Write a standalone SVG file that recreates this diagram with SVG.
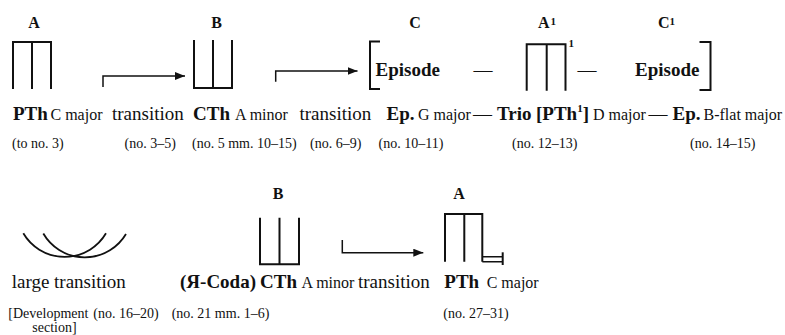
<svg xmlns="http://www.w3.org/2000/svg" width="785" height="335" viewBox="0 0 785 335" font-family="'Liberation Serif', 'Times New Roman', serif">
<style>
text{font-family:'Liberation Serif','Times New Roman',serif;fill:#111}
.lbl{font-size:16px;font-weight:bold}
.big{font-size:19px}
.b{font-weight:bold}
.sm{font-size:16px}
.ref{font-size:14px}
.sup{font-size:11px;font-weight:bold}
.sym{fill:none;stroke:#111;stroke-width:2}
.arc{fill:none;stroke:#111;stroke-width:1.8}
.con{fill:none;stroke:#111;stroke-width:1.5}
</style>
<defs>
<marker id="ah" viewBox="0 0 10 8" refX="10" refY="4" markerWidth="10" markerHeight="8" markerUnits="userSpaceOnUse" orient="auto">
<path d="M0,0 L10,4 L0,8 z" fill="#111"/>
</marker>
</defs>
<rect width="785" height="335" fill="#fff"/>

<g id="nodeA">
<text class="lbl" x="34" y="28" text-anchor="middle">A</text>
<path class="sym" d="M13,89 V42 H51 V89 M32,42 V89"/>
</g>
<g id="nodeB">
<text class="lbl" x="216.5" y="28" text-anchor="middle">B</text>
<path class="sym" d="M194,40 V88 H232 V40 M213,40 V88"/>
</g>
<g id="nodeC">
<text class="lbl" x="415" y="28" text-anchor="middle">C</text>
<path class="sym" d="M380,41.5 H370 V89 H380"/>
<text class="big b" x="375.5" y="76">Episode</text>
<text class="big" x="473.5" y="76">—</text>
</g>
<g id="nodeA1">
<text class="lbl" x="538" y="28">A</text>
<text class="sup" x="550.5" y="24.5">1</text>
<path class="sym" d="M526.7,90.7 V44.3 H565.5 V90.7 M546.7,44.3 V90.7"/>
<text class="sup" x="568.5" y="46.5">1</text>
<text class="big" x="577.5" y="76">—</text>
</g>
<g id="nodeC1">
<text class="lbl" x="658" y="28">C</text>
<text class="sup" x="669.5" y="24.5">1</text>
<text class="big b" x="635" y="76">Episode</text>
<path class="sym" d="M699.5,42 H710.5 V90 H699.5"/>
</g>

<g id="row1-text">
<text class="big b" x="13" y="120">PTh</text>
<text class="sm" x="50.5" y="120">C major</text>
<text class="big" x="112" y="120">transition</text>
<text class="big b" x="193" y="120">CTh</text>
<text class="sm" x="235" y="120">A minor</text>
<text class="big" x="299.5" y="120">transition</text>
<text class="big b" x="386.5" y="120">Ep.</text>
<text class="sm" x="418" y="120">G major</text>
<text class="big" x="473" y="120">—</text>
<text class="big b" x="497" y="120">Trio</text>
<text class="big b" x="536" y="120">[PTh<tspan font-size="11" dy="-8">1</tspan><tspan dy="8">]</tspan></text>
<text class="sm" x="593" y="120">D major</text>
<text class="big" x="648.5" y="120">—</text>
<text class="big b" x="672.5" y="120">Ep.</text>
<text class="sm" x="703.5" y="120">B-flat major</text>
</g>
<g id="row1-refs">
<text class="ref" x="12" y="147.5">(to no. 3)</text>
<text class="ref" x="124.5" y="147.5">(no. 3–5)</text>
<text class="ref" x="192" y="147.5">(no. 5 mm. 10–15)</text>
<text class="ref" x="310" y="147.5">(no. 6–9)</text>
<text class="ref" x="378.5" y="147.5">(no. 10–11)</text>
<text class="ref" x="512" y="147.5">(no. 12–13)</text>
<text class="ref" x="690" y="147.5">(no. 14–15)</text>
</g>

<g id="nodeDev">
<path class="arc" d="M23.3,233.3 A48,48 0 0 0 106,233.3"/>
<path class="arc" d="M43.3,233.5 A48,48 0 0 0 126,234"/>
</g>
<g id="nodeB2">
<text class="lbl" x="278" y="199" text-anchor="middle">B</text>
<path class="sym" d="M260,217.7 V264.3 H299 V217.7 M279.5,217.7 V264.3"/>
</g>
<g id="nodeA2">
<text class="lbl" x="459" y="199" text-anchor="middle">A</text>
<path class="sym" d="M445,261.7 V214 H482.3 V261.7 M464.3,214 V261.7"/>
<path class="con" d="M482.3,256.7 H502.7 M482.3,261.7 H502.7"/>
<path class="sym" d="M502.7,252.3 V265"/>
</g>

<g id="row2-text">
<text class="big" x="11.7" y="288">large transition</text>
<text class="big b" x="180" y="288">(Я-Coda)</text>
<text class="big b" x="260" y="288">CTh</text>
<text class="sm" x="301.5" y="288">A minor</text>
<text class="big" x="358" y="288" font-size="19.5">transition</text>
<text class="big b" x="444.3" y="288">PTh</text>
<text class="sm" x="486.7" y="288">C major</text>
</g>
<g id="row2-refs">
<text class="ref" x="8.3" y="318">[Development</text>
<text class="ref" x="32.3" y="331.5">section]</text>
<text class="ref" x="93.3" y="318">(no. 16–20)</text>
<text class="ref" x="171.7" y="318">(no. 21 mm. 1–6)</text>
<text class="ref" x="443.3" y="318">(no. 27–31)</text>
</g>

<g id="connectors">
<path class="con" d="M103,87 V76 H185" marker-end="url(#ah)"/>
<path class="con" d="M275.7,81.7 V71 H357.5" marker-end="url(#ah)"/>
<path class="con" d="M342.3,240 V252.7 H423.3" marker-end="url(#ah)"/>
</g>
</svg>
